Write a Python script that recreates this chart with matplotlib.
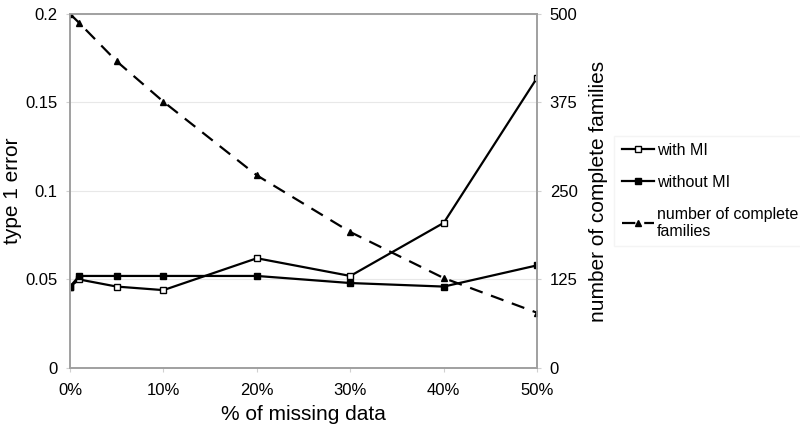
import matplotlib.pyplot as plt
from matplotlib.ticker import FuncFormatter

plt.rcParams['font.family'] = ['Liberation Sans', 'DejaVu Sans']

missing = [0, 1, 5, 10, 20, 30, 40, 50]
with_mi = [0.046, 0.050, 0.046, 0.044, 0.062, 0.052, 0.082, 0.164]
without_mi = [0.046, 0.052, 0.052, 0.052, 0.052, 0.048, 0.046, 0.058]
families = [500, 487, 433, 376, 272, 192, 127, 78]

fig = plt.figure(figsize=(8, 4.34), dpi=100)
ax = fig.add_axes([0.0875, 0.152, 0.584, 0.816])
ax2 = ax.twinx()

l1, = ax.plot(missing, with_mi, color='black', lw=1.6, marker='s', ms=4.2,
              mfc='white', mec='black', mew=1, label='with MI')
l2, = ax.plot(missing, without_mi, color='black', lw=1.6, marker='s', ms=4.2,
              mfc='black', mec='black', label='without MI')
l3, = ax2.plot(missing, families, color='black', lw=1.6, ls=(0, (6, 4)),
               marker='^', ms=4.5, label='number of complete\nfamilies')

ax.set_xlim(0, 50)
ax.set_ylim(0, 0.2)
ax2.set_ylim(0, 500)
ax.set_xticks([0, 10, 20, 30, 40, 50])
ax.xaxis.set_major_formatter(FuncFormatter(lambda v, p: f'{int(v)}%'))
ax.set_yticks([0, 0.05, 0.1, 0.15, 0.2])
ax.set_yticklabels(['0', '0.05', '0.1', '0.15', '0.2'])
ax2.set_yticks([0, 125, 250, 375, 500])

ax.grid(axis='y', color='#e8e8e8', lw=0.8)
ax.set_axisbelow(True)
for a in (ax, ax2):
    for s in a.spines.values():
        s.set_color('#a0a0a0')
        s.set_linewidth(1.2)
    a.tick_params(length=3, color='#d0d0d0', labelsize=12, pad=6)
ax.tick_params(axis='x', pad=8)

ax.set_xlabel('% of missing data', fontsize=15, labelpad=5)
ax.set_ylabel('type 1 error', fontsize=15, labelpad=2)
ax2.set_ylabel('number of complete families', fontsize=15, labelpad=8)

fig.legend([l1, l2, l3], [l1.get_label(), l2.get_label(), l3.get_label()],
           loc='center left', bbox_to_anchor=(0.768, 0.56), fontsize=11.5,
           frameon=True, edgecolor='#f2f2f2', fancybox=False,
           handlelength=2.0, handletextpad=0.2, labelspacing=1.05,
           borderpad=0.45, borderaxespad=0)

fig.savefig('out.png', dpi=100)
